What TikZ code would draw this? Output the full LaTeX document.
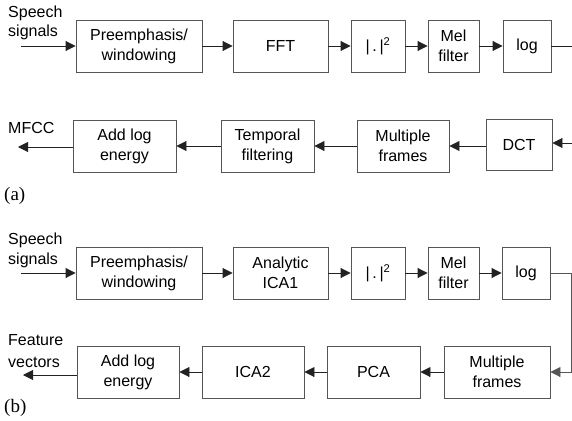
\documentclass[tikz,border=0pt]{standalone}
\usepackage{fontspec}
\setmainfont{Liberation Sans}
\newfontfamily\labelserif{Liberation Serif}
\usetikzlibrary{arrows.meta}
\definecolor{boxgray}{HTML}{555555}
\definecolor{wiregray}{HTML}{222222}
\tikzset{
  blk/.style={draw=boxgray, line width=0.9pt, inner sep=0pt, align=center,
    font=\fontsize{16}{20}\selectfont, minimum height=52pt},
  flow/.style={draw=wiregray, line width=0.9pt, -{Triangle[length=10pt,width=10pt]}},
  wire/.style={draw=boxgray, line width=0.8pt},
  side/.style={font=\fontsize{16}{20}\selectfont, align=left, inner sep=0pt},
  tag/.style={font=\labelserif\fontsize{19}{21}\selectfont, inner sep=0pt}
}
\begin{document}
\begin{tikzpicture}[x=1pt, y=-1pt]
\useasboundingbox (0,0) rectangle (572,420);

% ---- (a) MFCC front end, first row
\node[blk, minimum width=126pt] (pre1) at (139,46) {Preemphasis/\\windowing};
\node[blk, minimum width=95pt]  (fft)  at (280.5,46) {FFT};
\node[blk, minimum width=54pt]  (abs1) at (378,46) {|\,.\,|\textsuperscript{2}};
\node[blk, minimum width=51pt]  (mel1) at (453.5,46) {Mel\\filter};
\node[blk, minimum width=48pt]  (log1) at (527,46) {log};

\coordinate (in1) at (21,46);
\coordinate (out1) at (572,46);
\node[side, anchor=base west] (sp1) at (8,18) {Speech};
\node[side, anchor=base west] (sg1) at (8,37) {signals};

\draw[flow] (in1) -- (pre1);
\draw[flow] (pre1) -- (fft);
\draw[flow] (fft) -- (abs1);
\draw[flow] (abs1) -- (mel1);
\draw[flow] (mel1) -- (log1);
\draw[wire, draw=wiregray] (log1) -- (out1);

% ---- (a) second row, right to left
\node[blk, minimum width=103pt] (add1)  at (124.5,146) {Add log\\energy};
\node[blk, minimum width=93pt]  (temp)  at (267.5,146) {Temporal\\filtering};
\node[blk, minimum width=92pt]  (mult1) at (403,146) {Multiple\\frames};
\node[blk, minimum width=66pt, minimum height=51pt] (dct) at (519,144.5) {DCT};

\coordinate (in2) at (572,143);
\coordinate (mfccend) at (18,147);
\node[side, anchor=base west] (mfcc) at (8,133) {MFCC};
\node[tag, anchor=base west] (taga) at (4,200) {(a)};

\draw[flow] (in2) -- (in2 -| dct.east);
\draw[flow] (dct.west |- mult1) -- (mult1);
\draw[flow] (mult1) -- (temp);
\draw[flow] (temp) -- (add1);
\draw[flow] (add1.west |- mfccend) -- (mfccend);

% ---- (b) ICA based front end, first row
\node[blk, minimum width=126pt] (pre2) at (139,273) {Preemphasis/\\windowing};
\node[blk, minimum width=95pt]  (ica1) at (280.5,273) {Analytic\\ICA1};
\node[blk, minimum width=54pt]  (abs2) at (378,273) {|\,.\,|\textsuperscript{2}};
\node[blk, minimum width=51pt]  (mel2) at (453.5,273) {Mel\\filter};
\node[blk, minimum width=48pt]  (log2) at (526,273) {log};

\coordinate (in3) at (21,273);
\node[side, anchor=base west] (sp2) at (8,244) {Speech};
\node[side, anchor=base west] (sg2) at (8,264) {signals};

\draw[flow] (in3) -- (pre2);
\draw[flow] (pre2) -- (ica1);
\draw[flow] (ica1) -- (abs2);
\draw[flow] (abs2) -- (mel2);
\draw[flow] (mel2) -- (log2);

% ---- (b) second row, right to left
\node[blk, minimum width=102pt] (add2)  at (128,372) {Add log\\energy};
\node[blk, minimum width=102pt] (ica2)  at (253,372) {ICA2};
\node[blk, minimum width=93pt]  (pca)   at (373.5,372) {PCA};
\node[blk, minimum width=106pt] (mult2) at (497,372) {Multiple\\frames};

\coordinate (turn) at (571,273);
\coordinate (featend) at (23,375);
\node[side, anchor=base west] (feat) at (8,345) {Feature};
\node[side, anchor=base west] (vec)  at (8,367) {vectors};
\node[tag, anchor=base west] (tagb) at (4,412) {(b)};

\draw[wire] (log2) -- (turn);
\draw[flow, draw=boxgray] (turn) -- (turn |- mult2) -- (mult2);
\draw[flow] (mult2) -- (pca);
\draw[flow] (pca) -- (ica2);
\draw[flow] (ica2) -- (add2);
\draw[flow] (add2.west |- featend) -- (featend);
\end{tikzpicture}
\end{document}
